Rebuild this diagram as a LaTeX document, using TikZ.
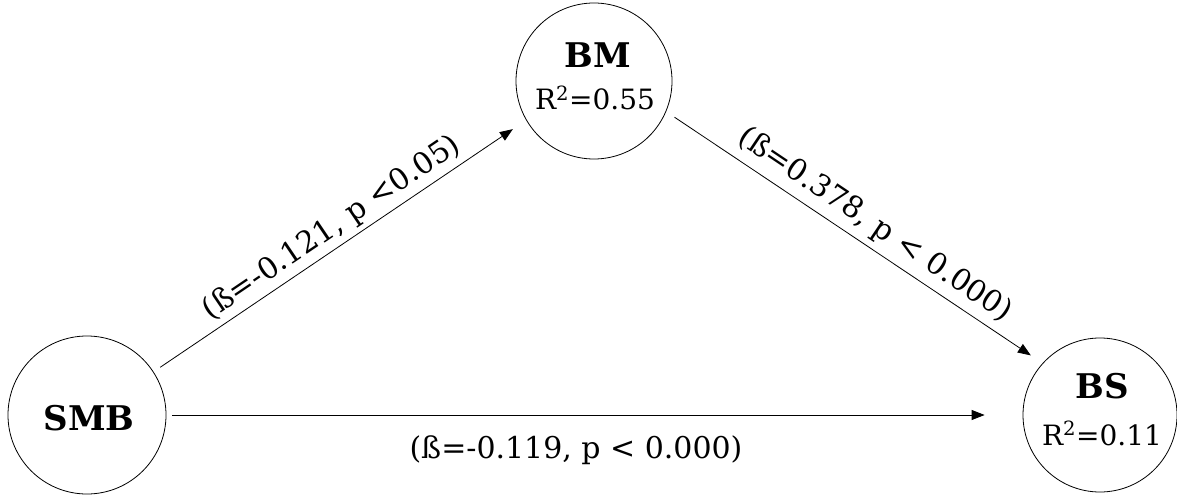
\documentclass[tikz,border=0pt]{standalone}
\usepackage{fontspec}
\setmainfont{DejaVu Serif}
\usetikzlibrary{arrows.meta}
\begin{document}
\begin{tikzpicture}[x=1pt,y=-1pt,
  var/.style={circle,draw,line width=0.8pt,inner sep=0pt},
  conn/.style={-{Triangle[length=13pt,width=10pt]},line width=0.8pt},
  lab/.style={inner sep=0pt,font=\fontsize{30}{32}\selectfont},
  nm/.style={anchor=base,inner sep=0pt,font=\fontsize{34}{36}\selectfont\bfseries},
  rr/.style={anchor=base,inner sep=0pt,font=\fontsize{28}{30}\selectfont}]
\useasboundingbox (0,0) rectangle (1177,497);
\node[var,minimum size=156pt] (BM) at (594,81) {};
\node[var,minimum size=158pt] (SMB) at (87,415) {};
\node[var,minimum size=154pt] (BS) at (1100,415) {};
\node[nm] (BMt) at (598,68) {BM};
\node[rr] (BMr) at (595,110) {R\textsuperscript{2}=0.55};
\node[nm] (SMBt) at (89,430) {SMB};
\node[nm] (BSt) at (1102,398) {BS};
\node[rr] (BSr) at (1102,445) {R\textsuperscript{2}=0.11};
\draw[conn,shorten <=8pt,shorten >=16pt] (SMB.33) -- (BM.210);
\draw[conn,shorten <=10pt,shorten >=14pt] (BM.337) -- (BS.138);
\draw[conn,shorten <=6pt,shorten >=38pt] (SMB.0) -- (BS.180);
\node[lab,rotate=34.1] (l1) at (332,228) {(ß=-0.121, p <0.05)};
\node[lab,rotate=-33.9] (l2) at (875,225) {(ß=0.378, p < 0.000)};
\node[lab] (l3) at (576,450) {(ß=-0.119, p < 0.000)};
\end{tikzpicture}
\end{document}
